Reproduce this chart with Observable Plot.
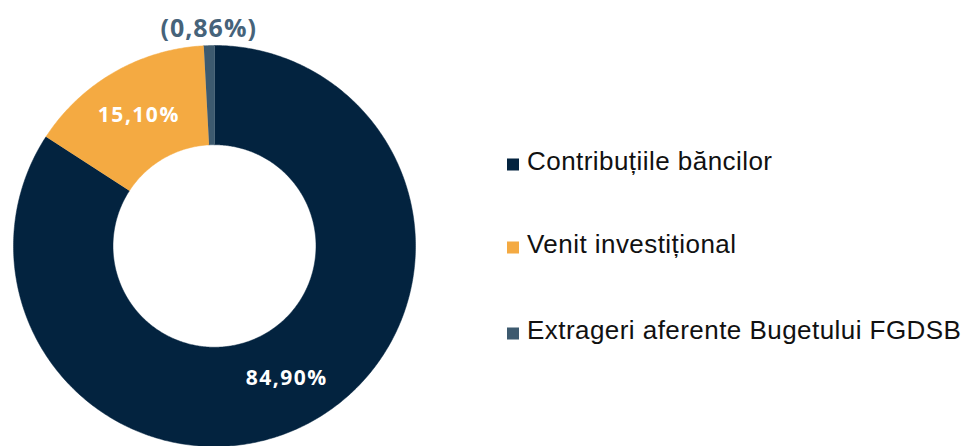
<!DOCTYPE html>
<html>
<head>
<meta charset="utf-8">
<script src="https://cdn.jsdelivr.net/npm/d3@7"></script>
<script src="https://cdn.jsdelivr.net/npm/@observablehq/plot@0.6"></script>
<style>
  html, body { margin: 0; padding: 0; background: #fff; }
  #wrap { display: flex; flex-direction: row; width: 973px; height: 446px; overflow: hidden; }
  #legend { position: relative; flex: 1; font-family: "Liberation Sans", Arial, sans-serif; font-size: 26px; letter-spacing: 0.45px; color: #111; }
  .row { position: absolute; left: 17px; display: flex; align-items: center; white-space: nowrap; transform: translateY(-50%); }
  .sw { width: 12px; height: 12px; margin-right: 8px; flex: none; position: relative; top: 3px; }
</style>
</head>
<body>
<div id="wrap"><div id="chart"></div><div id="legend"></div></div>
<script>
const categories = ["Contribuțiile băncilor", "Venit investițional", "Extrageri aferente Bugetului FGDSB"];
const values = [84.90, 15.10, 0.86];
const labels = ["84,90%", "15,10%", "(0,86%)"];
const colors = ["#03233f", "#f4aa42", "#3d5a6f"];
const labelColors = ["#ffffff", "#ffffff", "#46637a"];

const innerR = 0.505, outerR = 1;
const arcs = d3.pie().sort(null).value(d => d)(values);

function pt(r, a) { return [r * Math.sin(a), r * Math.cos(a)]; }

const slices = arcs.map((a, i) => {
  const n = Math.max(4, Math.ceil((a.endAngle - a.startAngle) / 0.01));
  const pts = [];
  for (let k = 0; k <= n; k++) pts.push(pt(outerR, a.startAngle + (a.endAngle - a.startAngle) * k / n));
  for (let k = n; k >= 0; k--) pts.push(pt(innerR, a.startAngle + (a.endAngle - a.startAngle) * k / n));
  return pts.map(([x, y]) => ({x, y, cat: categories[i]}));
});

const labelData = arcs.map((a, i) => {
  const mid = (a.startAngle + a.endAngle) / 2;
  const r = i === 2 ? 1.085 : (innerR + outerR) / 2;
  const [x, y] = pt(r, mid);
  return {x, y, label: labels[i]};
});

const marks = slices.map((s, i) => Plot.line(s, {x: "x", y: "y", fill: colors[i], stroke: colors[i], strokeWidth: 0.5, curve: "linear"}));
marks.push(Plot.text(labelData.slice(0, 2), {x: "x", y: "y", text: "label", fill: "white", fontSize: 21, fontWeight: "bold", style: "letter-spacing:1.5px"}));
marks.push(Plot.text(labelData.slice(2), {x: "x", y: "y", text: "label", fill: labelColors[2], fontSize: 25, fontWeight: "bold"}));

const chart = Plot.plot({
  width: 490,
  height: 446,
  x: {domain: [-1, 1], range: [13, 415], axis: null},
  y: {domain: [-1, 1], range: [446, 45], axis: null},
  style: {fontFamily: "'Open Sans', sans-serif", overflow: "visible"},
  marks
});
document.getElementById("chart").appendChild(chart);
// letter spacing on label texts
chart.querySelectorAll("g[aria-label=text]").forEach((g, i) => {
  g.setAttribute("letter-spacing", i === 0 ? "1.5" : "1");
});

const legendY = [161, 244, 330];
const legend = document.getElementById("legend");
categories.forEach((c, i) => {
  const row = document.createElement("div");
  row.className = "row";
  row.style.top = legendY[i] + "px";
  const sw = document.createElement("span");
  sw.className = "sw";
  sw.style.background = colors[i];
  const t = document.createElement("span");
  t.textContent = c;
  row.appendChild(sw); row.appendChild(t);
  legend.appendChild(row);
});
</script>
</body>
</html>
